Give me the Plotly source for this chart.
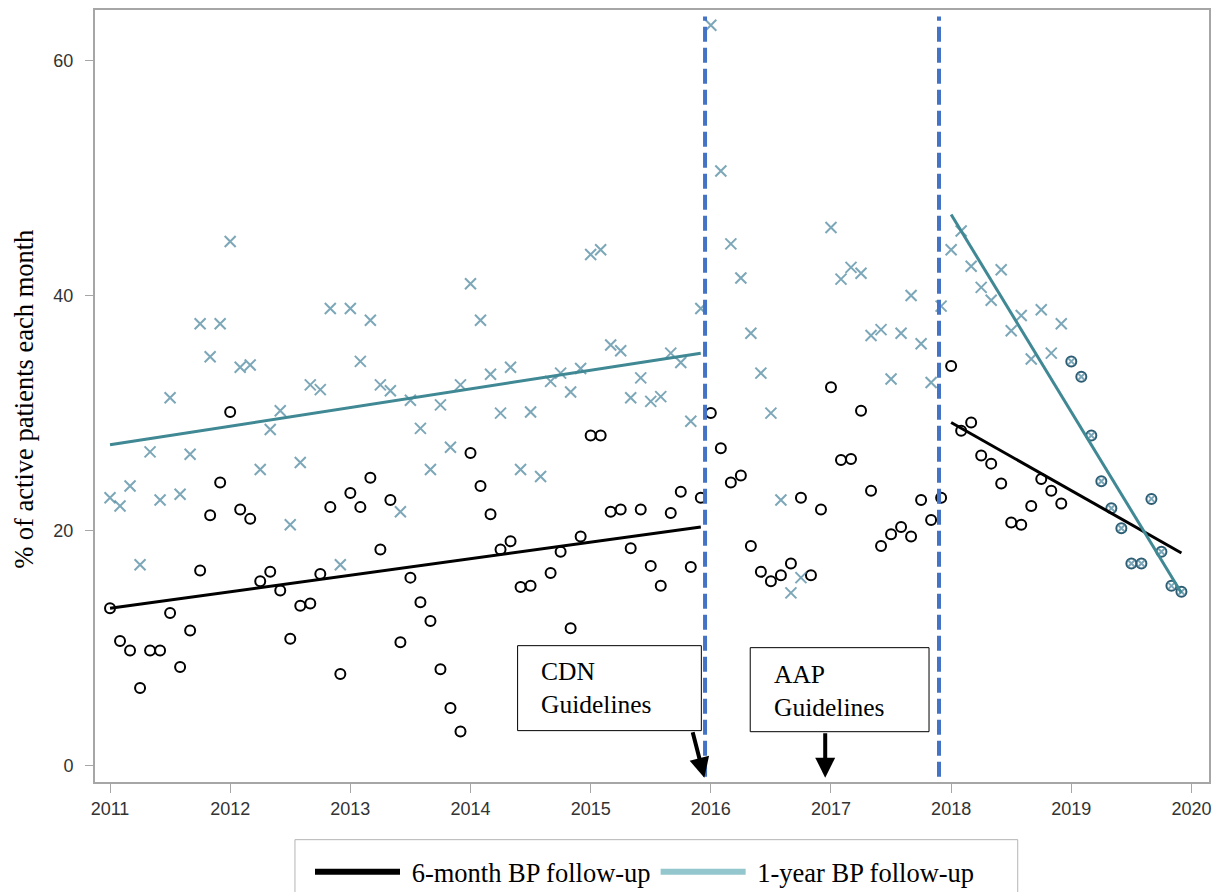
import pandas as pd
import plotly.graph_objects as go

# ---------------- data ----------------
months = pd.period_range("2011-01", periods=108, freq="M")
x_dec = [p.year + (p.month - 1) / 12 for p in months]

six_month = [
    13.4, 10.6, 9.8, 6.6, 9.8, 9.8, 13.0, 8.4, 11.5, 16.6, 21.3, 24.1,
    30.1, 21.8, 21.0, 15.7, 16.5, 14.9, 10.8, 13.6, 13.8, 16.3, 22.0, 7.8,
    23.2, 22.0, 24.5, 18.4, 22.6, 10.5, 16.0, 13.9, 12.3, 8.2, 4.9, 2.9,
    26.6, 23.8, 21.4, 18.4, 19.1, 15.2, 15.3, None, 16.4, 18.2, 11.7, 19.5,
    28.1, 28.1, 21.6, 21.8, 18.5, 21.8, 17.0, 15.3, 21.5, 23.3, 16.9, 22.8,
    30.0, 27.0, 24.1, 24.7, 18.7, 16.5, 15.7, 16.2, 17.2, 22.8, 16.2, 21.8,
    32.2, 26.0, 26.1, 30.2, 23.4, 18.7, 19.7, 20.3, 19.5, 22.6, 20.9, 22.8,
    34.0, 28.5, 29.2, 26.4, 25.7, 24.0, 20.7, 20.5, 22.1, 24.4, 23.4, 22.3,
    34.4, 33.1, 28.1, 24.2, 21.9, 20.2, 17.2, 17.2, 22.7, 18.2, 15.3, 14.8,
]

one_year = [
    22.8, 22.1, 23.8, 17.1, 26.7, 22.6, 31.3, 23.1, 26.5, 37.6, 34.8, 37.6,
    44.6, 33.9, 34.1, 25.2, 28.6, 30.2, 20.5, 25.8, 32.4, 32.0, 38.9, 17.1,
    38.9, 34.4, 37.9, 32.4, 31.9, 21.6, 31.1, 28.7, 25.2, 30.7, 27.1, 32.4,
    41.0, 37.9, 33.3, 30.0, 33.9, 25.2, 30.1, 24.6, 32.7, 33.4, 31.8, 33.8,
    43.5, 43.9, 35.8, 35.3, 31.3, 33.0, 31.0, 31.4, 35.1, 34.3, 29.3, 38.9,
    63.0, 50.6, 44.4, 41.5, 36.8, 33.4, 30.0, 22.6, 14.7, 16.0, None, None,
    45.8, 41.4, 42.4, 41.9, 36.6, 37.1, 32.9, 36.8, 40.0, 35.9, 32.6, 39.1,
    43.9, 45.5, 42.5, 40.7, 39.6, 42.2, 37.0, 38.3, 34.6, 38.8, 35.1, 37.6,
    34.4, 33.1, 28.1, 24.2, 21.9, 20.2, 17.2, 17.2, 22.7, 18.2, 15.3, 14.8,
]

# fitted trend lines (start, end)
trend_pre_months = ["2011-01", "2015-12"]
trend_post_months = ["2018-01", "2019-12"]
trend_six_pre = [13.4, 20.3]
trend_one_pre = [27.3, 35.1]
trend_six_post = [29.2, 18.1]
trend_one_post = [46.9, 14.7]

year_ticks = list(range(2011, 2021))
y_ticks = [0, 20, 40, 60]
legend_names = ["6-month BP follow-up", "1-year BP follow-up"]

# ---------------- styling ----------------
BLACK = "#000000"
TEAL_MARK = "#44829a"
TEAL_LINE = "#3f8894"
TEAL_LEG = "#93c6cd"
OVERLAP = "#2d5c72"
BLUE = "#4472c4"
SERIF = "Liberation Serif, Times New Roman, serif"
SANS = "Liberation Sans, Arial, sans-serif"


def dec(m):
    p = pd.Period(m, freq="M")
    return p.year + (p.month - 1) / 12


overlap_start = 96
circle_colors = [BLACK if i < overlap_start else OVERLAP for i in range(len(six_month))]
x_sizes = [11 if i < overlap_start else 7 for i in range(len(one_year))]

fig = go.Figure()

fig.add_trace(go.Scatter(
    x=x_dec, y=six_month, mode="markers", showlegend=False,
    marker=dict(symbol="circle-open", size=10, color=circle_colors,
                line=dict(width=2, color=circle_colors)),
))
fig.add_trace(go.Scatter(
    x=x_dec, y=one_year, mode="markers", showlegend=False,
    marker=dict(symbol="x-thin-open", size=x_sizes, color=TEAL_MARK,
                line=dict(width=2, color=TEAL_MARK)),
))

for xs, ys, col in [
    (trend_pre_months, trend_six_pre, BLACK),
    (trend_pre_months, trend_one_pre, TEAL_LINE),
    (trend_post_months, trend_six_post, BLACK),
    (trend_post_months, trend_one_post, TEAL_LINE),
]:
    fig.add_trace(go.Scatter(
        x=[dec(m) for m in xs], y=ys, mode="lines", showlegend=False,
        line=dict(color=col, width=3),
    ))

# legend-only entries
fig.add_trace(go.Scatter(x=[None], y=[None], mode="lines",
                         name="\u00a0" + legend_names[0],
                         line=dict(color=BLACK, width=6)))
fig.add_trace(go.Scatter(x=[None], y=[None], mode="lines",
                         name="\u00a0" + legend_names[1],
                         line=dict(color=TEAL_LEG, width=6)))

# guideline dashed lines
for xv in [2015.952, 2017.899]:
    fig.add_shape(type="line", x0=xv, x1=xv, y0=-0.94, y1=63.74, xref="x", yref="y",
                  line=dict(color=BLUE, width=4, dash="15px,6px"), layer="above")

# annotation boxes
fig.add_shape(type="rect", x0=2014.392, x1=2015.921, y0=2.98, y1=10.21,
              xref="x", yref="y", line=dict(color="#000000", width=1),
              fillcolor="white", layer="above")
fig.add_shape(type="rect", x0=2016.328, x1=2017.816, y0=2.89, y1=10.04,
              xref="x", yref="y", line=dict(color="#000000", width=1),
              fillcolor="white", layer="above")

fig.add_annotation(x=2014.574, y=6.64, xref="x", yref="y", text="CDN<br>Guidelines",
                   showarrow=False, xanchor="left", yanchor="middle", align="left",
                   font=dict(family=SERIF, size=25.5, color="black"))
fig.add_annotation(x=2016.511, y=6.38, xref="x", yref="y", text="AAP<br>Guidelines",
                   showarrow=False, xanchor="left", yanchor="middle", align="left",
                   font=dict(family=SERIF, size=25.5, color="black"))

# arrows
fig.add_annotation(x=2015.946, y=-1.02, ax=2015.846, ay=2.98, xref="x", yref="y",
                   axref="x", ayref="y", text="", showarrow=True, arrowhead=2,
                   arrowwidth=4, arrowsize=1, arrowcolor="black", standoff=0)
fig.add_annotation(x=2016.952, y=-1.02, ax=2016.952, ay=2.89, xref="x", yref="y",
                   axref="x", ayref="y", text="", showarrow=True, arrowhead=2,
                   arrowwidth=4, arrowsize=1, arrowcolor="black", standoff=0)

# y-axis title
fig.add_annotation(x=0, y=0.495, xref="paper", yref="paper", xshift=-71,
                   text="% of active patients each month", textangle=-90,
                   showarrow=False, xanchor="center", yanchor="middle",
                   font=dict(family=SERIF, size=26.5, color="black"))

# legend frame
fig.add_shape(type="rect", xref="paper", yref="paper", x0=0.1795, x1=0.8283,
              y0=-0.0747, y1=-0.3, line=dict(color="#b5b5b5", width=1),
              fillcolor="white", layer="below")

fig.update_layout(
    width=1227, height=892,
    margin=dict(l=95, r=18, t=10, b=110, autoexpand=False),
    paper_bgcolor="white", plot_bgcolor="white",
    showlegend=True,
    legend=dict(orientation="h", xref="container", yref="container",
                x=310 / 1227, y=20 / 892, xanchor="left", yanchor="middle",
                font=dict(family=SERIF, size=26.5, color="black"),
                bgcolor="rgba(0,0,0,0)", borderwidth=0, itemwidth=85,
                tracegroupgap=0),
    xaxis=dict(range=[2010.875, 2020.146], tickvals=year_ticks,
               ticktext=[str(v) for v in year_ticks],
               showgrid=False, zeroline=False, showline=True, mirror=True,
               linecolor="#a6a6a6", linewidth=2, ticks="outside", ticklen=9,
               tickcolor="#a6a6a6", tickwidth=1,
               tickfont=dict(family=SANS, size=18, color="#333333")),
    yaxis=dict(range=[-1.39, 64.3], tickvals=y_ticks,
               showgrid=False, zeroline=False, showline=True, mirror=True,
               linecolor="#a6a6a6", linewidth=2, ticks="outside", ticklen=8,
               tickcolor="#a6a6a6", tickwidth=1, ticklabelstandoff=8,
               tickfont=dict(family=SANS, size=18, color="#333333")),
)

fig.write_html("out.html")
